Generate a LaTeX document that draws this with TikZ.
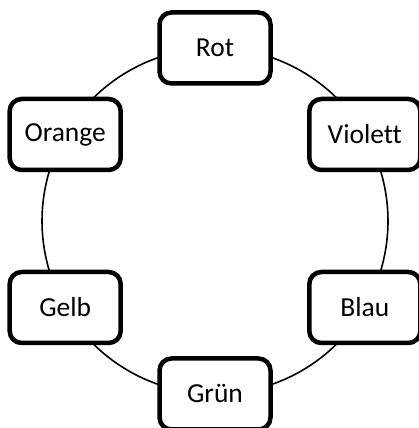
\documentclass[tikz,border=0pt]{standalone}
\usepackage{fontspec}
\setmainfont{Carlito}[Ligatures={NoCommon}]
\usetikzlibrary{calc,backgrounds}
\begin{document}
\begin{tikzpicture}[x=1pt,y=1pt,
  colbox/.style={draw=black, line width=4.5pt, rounded corners=12pt, fill=white,
    minimum width=111pt, minimum height=71pt, inner sep=0pt,
    font=\fontsize{27.5}{32}\selectfont},
  ring/.style={draw=black, line width=1.6pt}]
\useasboundingbox (0,0) rectangle (419,428);
\clip (0,0) rectangle (419,428);
\coordinate (c) at (215,207);
\node[colbox] (rot) at ($(c)+(90:173)$) {Rot};
\node[colbox] (violett) at ($(c)+(30:173)$) {Violett};
\node[colbox] (blau) at ($(c)+(-30:173)$) {Blau};
\node[colbox] (gruen) at ($(c)+(-90:173)$) {Grün};
\node[colbox] (gelb) at ($(c)+(210:173)$) {Gelb};
\node[colbox] (orange) at ($(c)+(150:173)$) {Orange};
\begin{scope}[on background layer]
\draw[ring] (rot.center) arc[start angle=90, end angle=30, radius=173];
\draw[ring] (violett.center) arc[start angle=30, end angle=-30, radius=173];
\draw[ring] (blau.center) arc[start angle=-30, end angle=-90, radius=173];
\draw[ring] (gruen.center) arc[start angle=-90, end angle=-150, radius=173];
\draw[ring] (gelb.center) arc[start angle=210, end angle=150, radius=173];
\draw[ring] (orange.center) arc[start angle=150, end angle=90, radius=173];
\end{scope}
\end{tikzpicture}
\end{document}
